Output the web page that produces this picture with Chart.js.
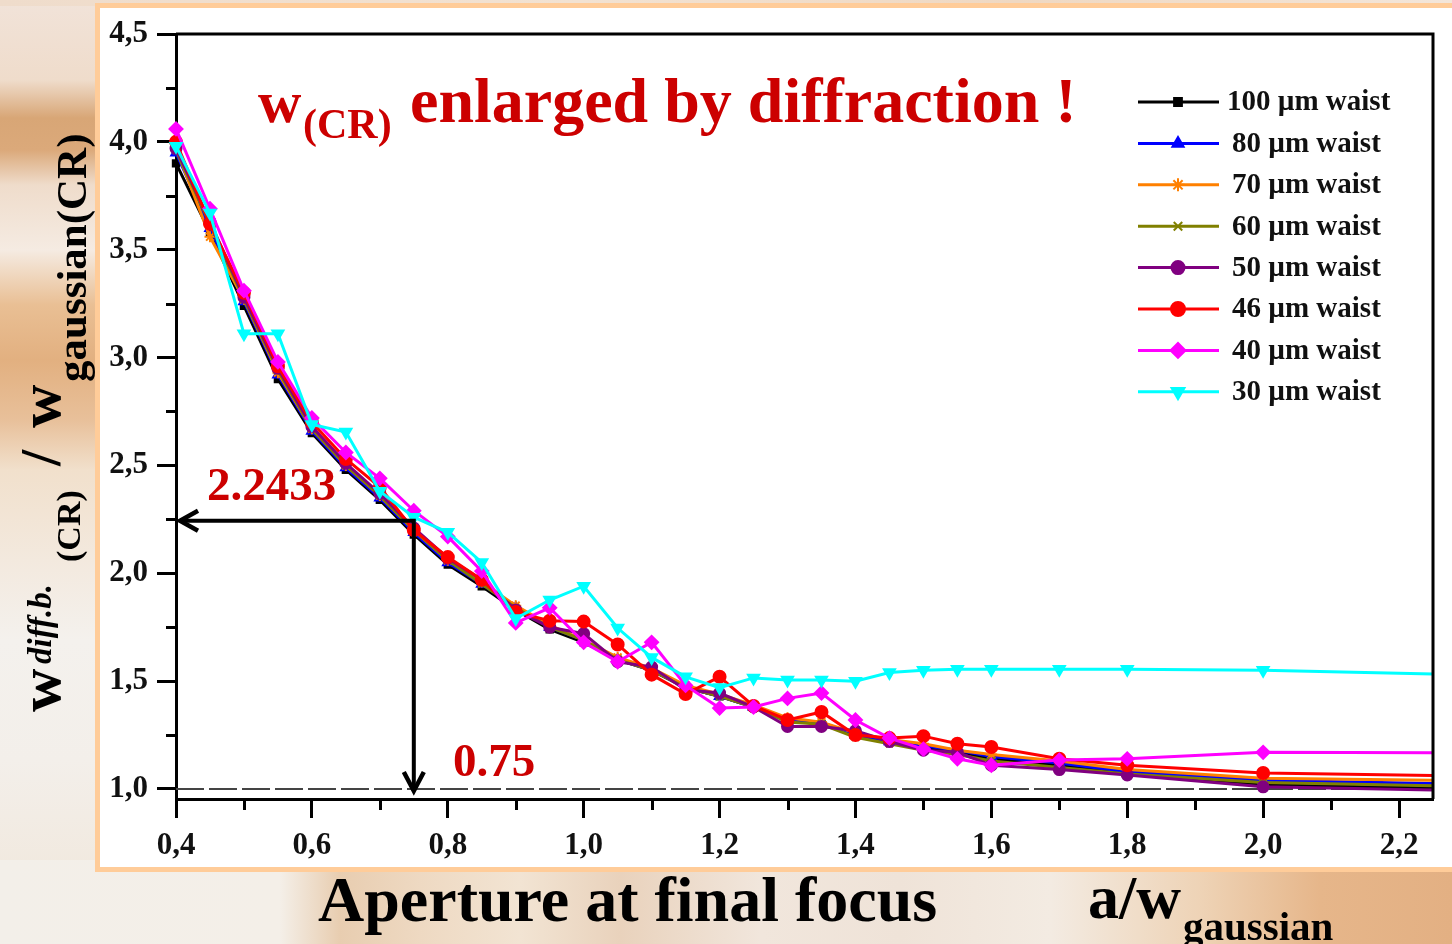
<!DOCTYPE html>
<html>
<head>
<meta charset="utf-8">
<script src="https://cdn.jsdelivr.net/npm/chart.js@4.4.0/dist/chart.umd.min.js"></script>
<style>
  html, body { margin: 0; padding: 0; }
  body {
    width: 1452px; height: 944px; overflow: hidden; position: relative;
    background: #f1e6dc;
  }
  #leftStrip {
    position: absolute; left: 0; top: 0; width: 100px; height: 944px;
    background: linear-gradient(180deg,
      #f1e3d9 0px, #efdccb 80px, #d8a676 118px, #dba97a 150px, #efdccb 185px,
      #f5ebe2 250px, #e9bf94 305px, #e2b080 360px, #e8c09a 420px, #f1e0cc 470px,
      #f3e9de 560px, #f4f1ed 640px, #f3efea 760px, #f1e9df 870px, #efe6dc 944px);
  }
  #bottomStrip {
    position: absolute; left: 0; top: 860px; width: 1452px; height: 84px;
    background: linear-gradient(90deg,
      #f3efe9 0px, #f4efe8 280px, #e8cdb0 340px, #eed9c2 420px, #f2e4d3 520px,
      #e9d2bc 620px, #f1e6dc 760px, #efe3d8 900px, #f3ebe2 1050px,
      #eed3b6 1200px, #e6b68a 1320px, #e3b083 1452px);
  }
  #topStrip {
    position: absolute; left: 0; top: 0; width: 1452px; height: 6px;
    background: linear-gradient(90deg, #efdccb, #f2e2d2 40%, #efd8c2 70%, #f3e6da);
  }
  #panel {
    position: absolute; left: 95px; top: 3px; width: 1400px; height: 869px;
    box-sizing: border-box; background: #fff; border: 5px solid #ffcc99;
  }
  #chart { position: absolute; left: 0; top: 0; }
</style>
</head>
<body>
<div id="leftStrip"></div>
<div id="bottomStrip"></div>
<div id="topStrip"></div>
<div id="panel"></div>
<canvas id="chart" width="1452" height="944"></canvas>
<script>
// aperture a/w_gaussian and the ratio for each waist
const apertures = [0.4, 0.45, 0.5, 0.55, 0.6, 0.65, 0.7, 0.75, 0.8, 0.85, 0.9, 0.95, 1.0, 1.05, 1.1,
  1.15, 1.2, 1.25, 1.3, 1.35, 1.4, 1.45, 1.5, 1.55, 1.6, 1.7, 1.8, 2.0, 2.5];

const waist100 = [3.90, 3.58, 3.24, 2.90, 2.65, 2.48, 2.34, 2.18, 2.04, 1.94, 1.83, 1.74, 1.68, 1.60, 1.55,
  1.47, 1.43, 1.38, 1.32, 1.30, 1.25, 1.22, 1.19, 1.17, 1.14, 1.11, 1.07, 1.02, 0.99];
const waist80 = [3.95, 3.60, 3.26, 2.92, 2.66, 2.49, 2.35, 2.19, 2.05, 1.95, 1.84, 1.75, 1.69, 1.60, 1.55,
  1.47, 1.43, 1.38, 1.32, 1.31, 1.25, 1.22, 1.20, 1.18, 1.15, 1.12, 1.08, 1.04, 1.01];
const waist70 = [3.97, 3.56, 3.27, 2.93, 2.67, 2.50, 2.36, 2.20, 2.06, 1.96, 1.85, 1.76, 1.69, 1.61, 1.56,
  1.48, 1.44, 1.39, 1.33, 1.31, 1.26, 1.23, 1.21, 1.18, 1.16, 1.13, 1.09, 1.05, 1.03];
const waist60 = [3.96, 3.62, 3.27, 2.94, 2.67, 2.50, 2.36, 2.20, 2.06, 1.95, 1.84, 1.75, 1.69, 1.60, 1.55,
  1.47, 1.43, 1.38, 1.31, 1.30, 1.24, 1.21, 1.18, 1.16, 1.13, 1.10, 1.07, 1.03, 1.00];
const waist50 = [3.97, 3.63, 3.28, 2.95, 2.68, 2.51, 2.37, 2.21, 2.07, 1.97, 1.83, 1.75, 1.72, 1.59, 1.565,
  1.46, 1.445, 1.38, 1.29, 1.29, 1.27, 1.22, 1.18, 1.17, 1.11, 1.09, 1.065, 1.01, 0.98];
const waist46 = [4.00, 3.62, 3.30, 2.96, 2.70, 2.53, 2.40, 2.20, 2.075, 1.97, 1.82, 1.78, 1.776, 1.67, 1.53,
  1.44, 1.52, 1.385, 1.32, 1.357, 1.25, 1.236, 1.245, 1.21, 1.195, 1.14, 1.11, 1.074, 1.05];
const waist40 = [4.06, 3.69, 3.31, 2.98, 2.72, 2.56, 2.44, 2.29, 2.17, 2.01, 1.77, 1.84, 1.68, 1.59, 1.68,
  1.48, 1.375, 1.38, 1.42, 1.445, 1.32, 1.236, 1.185, 1.14, 1.11, 1.134, 1.14, 1.17, 1.165];
const waist30 = [3.98, 3.67, 3.11, 3.11, 2.69, 2.655, 2.38, 2.26, 2.19, 2.05, 1.79, 1.876, 1.94, 1.746, 1.61,
  1.52, 1.47, 1.515, 1.505, 1.505, 1.50, 1.54, 1.55, 1.555, 1.555, 1.555, 1.555, 1.55, 1.515];

const seriesLabels = ['100 \u00b5m waist', '80 \u00b5m waist', '70 \u00b5m waist', '60 \u00b5m waist',
  '50 \u00b5m waist', '46 \u00b5m waist', '40 \u00b5m waist', '30 \u00b5m waist'];

// axis ticks
const xMajorTicks = [0.4, 0.6, 0.8, 1.0, 1.2, 1.4, 1.6, 1.8, 2.0, 2.2];
const xMinorTicks = [0.5, 0.7, 0.9, 1.1, 1.3, 1.5, 1.7, 1.9, 2.1];
const yMajorTicks = [1.0, 1.5, 2.0, 2.5, 3.0, 3.5, 4.0, 4.5];
const yMinorTicks = [1.25, 1.75, 2.25, 2.75, 3.25, 3.75, 4.25];

// marked operating point
const markAperture = 0.75;
const markRatio = 2.2433;

const SERIF = '"Liberation Serif", "Times New Roman", serif';
const RED_TEXT = '#cc0000';

const styles = [
  { color: '#000000', pointStyle: 'rect', radius: 4.5, rotation: 0 },
  { color: '#0000ff', pointStyle: 'triangle', radius: 5.5, rotation: 0 },
  { color: '#ff8000', pointStyle: 'star', radius: 5.5, rotation: 0 },
  { color: '#808000', pointStyle: 'crossRot', radius: 5, rotation: 0 },
  { color: '#800080', pointStyle: 'circle', radius: 5.5, rotation: 0 },
  { color: '#ff0000', pointStyle: 'circle', radius: 6, rotation: 0 },
  { color: '#ff00ff', pointStyle: 'rectRot', radius: 6.5, rotation: 0 },
  { color: '#00ffff', pointStyle: 'triangle', radius: 6.5, rotation: 180 }
];
const seriesValues = [waist100, waist80, waist70, waist60, waist50, waist46, waist40, waist30];
// drawing order: cyan on top, black at the bottom
const drawOrder = [7, 6, 5, 4, 3, 2, 1, 0];

const datasets = seriesValues.map((vals, i) => ({
  label: seriesLabels[i],
  data: apertures.map((a, j) => ({ x: a, y: vals[j] })),
  borderColor: styles[i].color,
  backgroundColor: styles[i].color,
  borderWidth: 3,
  pointStyle: styles[i].pointStyle,
  pointRadius: styles[i].radius,
  pointRotation: styles[i].rotation,
  pointBorderWidth: 2,
  pointBackgroundColor: styles[i].color,
  pointBorderColor: styles[i].color,
  tension: 0,
  order: drawOrder[i],
  clip: { left: 12, top: 12, right: 0, bottom: 0 }
}));

const fmtTick = v => v.toFixed(1).replace('.', ',');

function drawRuns(ctx, runs) {
  runs.forEach(r => {
    ctx.font = r.font;
    ctx.fillText(r.text, r.at, r.dy || 0);
  });
}

function drawMarker(ctx, st, x, y) {
  ctx.fillStyle = st.color;
  ctx.strokeStyle = st.color;
  ctx.lineWidth = 2;
  const r = st.radius + 1;
  if (window.Chart && Chart.helpers && Chart.helpers.drawPoint) {
    Chart.helpers.drawPoint(ctx, { pointStyle: st.pointStyle, radius: r, rotation: st.rotation, borderWidth: 2 }, x, y);
  } else {
    ctx.beginPath();
    ctx.arc(x, y, r, 0, Math.PI * 2);
    ctx.fill();
  }
}

const decorPlugin = {
  id: 'decor',
  beforeDatasetsDraw(chart) {
    const { ctx, chartArea: a, scales: { y } } = chart;
    // reference line at ratio 1
    const y1 = y.getPixelForValue(1.0);
    ctx.save();
    ctx.strokeStyle = '#444';
    ctx.lineWidth = 2;
    ctx.setLineDash([28, 5]);
    ctx.beginPath();
    ctx.moveTo(a.left, y1);
    ctx.lineTo(a.right, y1);
    ctx.stroke();
    ctx.restore();
  },
  afterDatasetsDraw(chart) {
    const { ctx, chartArea: a, scales: { x, y } } = chart;
    ctx.save();
    ctx.strokeStyle = '#000';
    ctx.lineWidth = 3;
    // top and right frame
    ctx.beginPath();
    ctx.moveTo(a.left, a.top);
    ctx.lineTo(a.right, a.top);
    ctx.lineTo(a.right, a.bottom);
    ctx.stroke();

    // minor ticks
    ctx.beginPath();
    xMinorTicks.forEach(v => {
      const px = Math.round(x.getPixelForValue(v)) + 0.5;
      ctx.moveTo(px, a.bottom);
      ctx.lineTo(px, a.bottom + 11);
    });
    yMinorTicks.forEach(v => {
      const py = Math.round(y.getPixelForValue(v)) + 0.5;
      ctx.moveTo(a.left, py);
      ctx.lineTo(a.left - 10, py);
    });
    ctx.stroke();

    // arrows to the marked point
    const ax = x.getPixelForValue(markAperture);
    const ay = y.getPixelForValue(markRatio);
    const yOne = y.getPixelForValue(1.0);
    ctx.lineWidth = 4;
    ctx.lineCap = 'butt';
    ctx.beginPath();
    ctx.moveTo(ax, ay);
    ctx.lineTo(a.left + 4, ay);
    ctx.moveTo(ax, ay - 2);
    ctx.lineTo(ax, yOne + 2);
    ctx.stroke();
    ctx.lineJoin = 'miter';
    ctx.lineWidth = 4.5;
    ctx.beginPath();
    ctx.moveTo(a.left + 22, ay - 10);
    ctx.lineTo(a.left + 4, ay);
    ctx.lineTo(a.left + 22, ay + 10);
    ctx.moveTo(ax - 10, yOne - 17);
    ctx.lineTo(ax, yOne + 2);
    ctx.lineTo(ax + 10, yOne - 17);
    ctx.stroke();

    ctx.fillStyle = RED_TEXT;
    ctx.textBaseline = 'alphabetic';
    ctx.textAlign = 'left';
    ctx.font = 'bold 47px ' + SERIF;
    ctx.fillText(String(markRatio), 207, ay - 21);
    ctx.fillText(String(markAperture), 453, yOne - 13);
    ctx.restore();
  },
  afterDraw(chart) {
    const { ctx } = chart;
    ctx.save();
    ctx.textBaseline = 'alphabetic';
    ctx.textAlign = 'left';

    // legend
    const rowY0 = 102, rowStep = 41.4;
    chart.data.datasets.forEach((ds, i) => {
      const ry = rowY0 + i * rowStep;
      const st = styles[i];
      ctx.strokeStyle = st.color;
      ctx.lineWidth = 3;
      ctx.beginPath();
      ctx.moveTo(1138, ry);
      ctx.lineTo(1219, ry);
      ctx.stroke();
      drawMarker(ctx, st, 1178, ry);
      ctx.fillStyle = '#111';
      ctx.font = 'bold 29px ' + SERIF;
      ctx.textBaseline = 'middle';
      ctx.fillText(ds.label, i === 0 ? 1227 : 1232, ry + 1);
      ctx.textBaseline = 'alphabetic';
    });

    // title
    ctx.fillStyle = RED_TEXT;
    ctx.font = 'bold 60px ' + SERIF;
    ctx.fillText('w', 258, 122);
    ctx.font = 'bold 42px ' + SERIF;
    ctx.fillText('(CR)', 303, 138);
    ctx.font = 'bold 64px ' + SERIF;
    ctx.fillText('enlarged by diffraction !', 410, 122);

    // x axis title
    ctx.fillStyle = '#000';
    ctx.font = 'bold 64px ' + SERIF;
    ctx.fillText('Aperture at final focus', 318, 921);
    ctx.font = 'bold 62px ' + SERIF;
    ctx.fillText('a/w', 1088, 918);
    ctx.font = 'bold 41px ' + SERIF;
    ctx.fillText('gaussian', 1183, 940);

    // y axis title, written bottom to top
    ctx.translate(60, 712);
    ctx.rotate(-Math.PI / 2);
    drawRuns(ctx, [
      { text: 'w', font: 'bold 60px ' + SERIF, at: 0, dy: 0 },
      { text: 'diff.b.', font: 'italic bold 33px ' + SERIF, at: 48, dy: -9 },
      { text: '(CR)', font: 'bold 34px ' + SERIF, at: 150, dy: 20 },
      { text: '/', font: 'bold 58px ' + SERIF, at: 246, dy: 0 },
      { text: 'w', font: 'bold 60px ' + SERIF, at: 284, dy: 0 },
      { text: 'gaussian(CR)', font: 'bold 43px ' + SERIF, at: 330, dy: 26 }
    ]);
    ctx.restore();
  }
};

const tickFont = { family: SERIF, size: 31, weight: 'bold' };

new Chart(document.getElementById('chart'), {
  type: 'line',
  data: { datasets },
  options: {
    responsive: false,
    animation: false,
    layout: { padding: { left: 90, top: 34, right: 19, bottom: 75 } },
    plugins: { legend: { display: false }, tooltip: { enabled: false } },
    scales: {
      x: {
        type: 'linear',
        min: 0.4,
        max: 2.25,
        afterBuildTicks: s => { s.ticks = xMajorTicks.map(v => ({ value: v })); },
        afterFit: s => { s.height = 70; },
        ticks: { callback: fmtTick, font: tickFont, color: '#111', padding: 9, maxRotation: 0, autoSkip: false },
        grid: { display: true, drawOnChartArea: false, drawTicks: true, tickLength: 19, tickWidth: 3, tickColor: '#000' },
        border: { display: true, width: 3, color: '#000' }
      },
      y: {
        type: 'linear',
        min: 0.9536,
        max: 4.5,
        afterBuildTicks: s => { s.ticks = yMajorTicks.map(v => ({ value: v })); },
        afterFit: s => { s.width = 86; },
        ticks: { callback: fmtTick, font: tickFont, color: '#111', padding: 9, autoSkip: false },
        grid: { display: true, drawOnChartArea: false, drawTicks: true, tickLength: 19, tickWidth: 3, tickColor: '#000' },
        border: { display: true, width: 3, color: '#000' }
      }
    }
  },
  plugins: [decorPlugin]
});
</script>
</body>
</html>
